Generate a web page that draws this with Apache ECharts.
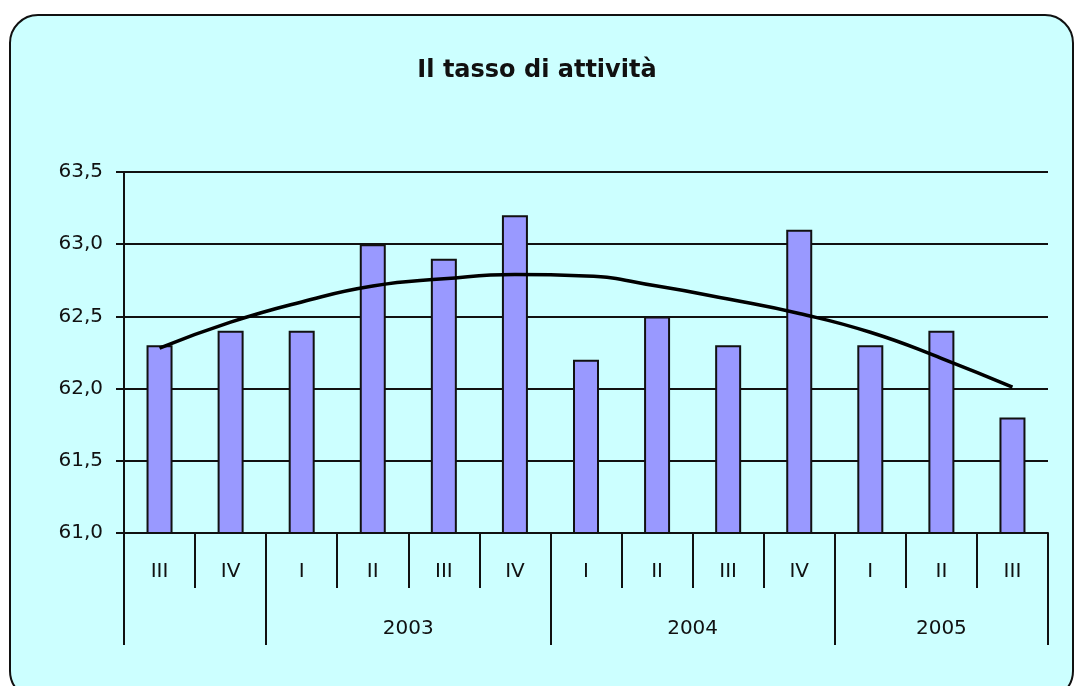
<!DOCTYPE html>
<html>
<head>
    <meta charset="utf-8">
    <title>Il tasso di attività</title>
    <script src="https://cdn.jsdelivr.net/npm/echarts@6/dist/echarts.min.js"></script>
    <style>
        html, body { margin: 0; padding: 0; background: #fff; }
    </style>
</head>
<body>
<div id="main" style="width: 1074px; height: 686px;"></div>
<script type="text/javascript">
    // quarters on the category axis, years underneath
    var quarters = ['III', 'IV', 'I', 'II', 'III', 'IV', 'I', 'II', 'III', 'IV', 'I', 'II', 'III'];
    var rate = [62.3, 62.4, 62.4, 63.0, 62.9, 63.2, 62.2, 62.5, 62.3, 63.1, 62.3, 62.4, 61.8];
    var trend = [62.28, 62.46, 62.6, 62.71, 62.76, 62.79, 62.78, 62.71, 62.62, 62.52, 62.39, 62.21, 62.01];
    // year group borders (in category units) and label centres
    var yearBreaks = [0, 2, 6, 10, 13];
    var yearCentres = [4, 8, 11.5];
    var years = ['2003', '2004', '2005'];

    var myChart = echarts.init(document.getElementById('main'));
    var textFont = 'DejaVu Sans';

    var option = {
        backgroundColor: '#ffffff',
        animation: false,
        graphic: [{
            type: 'rect',
            z: -10,
            shape: { x: 10, y: 15, width: 1063, height: 684, r: 28 },
            style: { fill: '#CCFFFF', stroke: '#111', lineWidth: 2 }
        }],
        title: {
            text: 'Il tasso di attività',
            left: 'center',
            top: 54,
            textStyle: { fontFamily: textFont, fontSize: 24, fontWeight: 'bold', color: '#111' }
        },
        grid: { left: 124, right: 26, top: 172, bottom: 153 },
        xAxis: [{
            type: 'category',
            data: quarters,
            boundaryGap: true,
            axisLine: { lineStyle: { color: '#111', width: 2 } },
            axisTick: { show: true, interval: 0, length: 55, lineStyle: { color: '#111', width: 2 } },
            axisLabel: { interval: 0, margin: 29, fontFamily: textFont, fontSize: 20, color: '#111' },
            splitLine: { show: false }
        }, {
            type: 'value',
            min: 0,
            max: 13,
            position: 'bottom',
            axisLine: { show: false },
            splitLine: { show: false },
            axisTick: {
                show: true,
                customValues: yearBreaks,
                length: 112,
                lineStyle: { color: '#111', width: 2 }
            },
            axisLabel: {
                customValues: yearCentres,
                margin: 86,
                fontFamily: textFont,
                fontSize: 20,
                color: '#111',
                formatter: function (v) {
                    return years[yearCentres.indexOf(v)];
                }
            }
        }],
        yAxis: {
            type: 'value',
            min: 61,
            max: 63.5,
            interval: 0.5,
            axisLine: { show: true, lineStyle: { color: '#111', width: 2 } },
            axisTick: { show: true, inside: false, length: 8, lineStyle: { color: '#111', width: 2 } },
            axisLabel: {
                margin: 21,
                fontFamily: textFont,
                fontSize: 20,
                color: '#111',
                formatter: function (v) { return v.toFixed(1).replace('.', ','); }
            },
            splitLine: { show: true, lineStyle: { color: '#111', width: 2 } }
        },
        series: [{
            type: 'bar',
            data: rate,
            barWidth: 26,
            itemStyle: { color: '#9999FF', borderColor: '#111', borderWidth: 2 }
        }, {
            type: 'line',
            data: trend,
            smooth: true,
            symbol: 'none',
            z: 5,
            lineStyle: { color: '#000', width: 3.5 }
        }]
    };

    myChart.setOption(option);
</script>
</body>
</html>
